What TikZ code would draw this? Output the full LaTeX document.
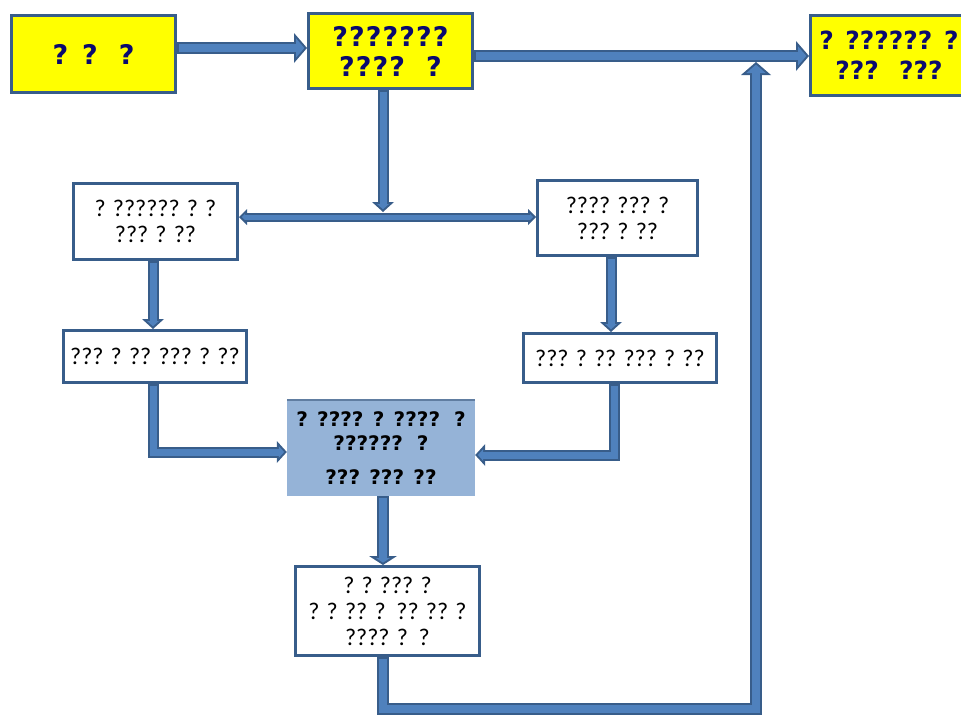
\documentclass[tikz,border=0pt]{standalone}
\usepackage{fontspec}
\usetikzlibrary{arrows.meta}
\newfontfamily\qbold{DejaVu Sans}[LetterSpace=4]
\newfontfamily\qboldc{DejaVu Sans}[LetterSpace=0]
\newfontfamily\qboldh{DejaVu Sans}[LetterSpace=0]
\newfontfamily\qreg{Carlito}
\definecolor{edge}{HTML}{385D8A}
\definecolor{pipefill}{HTML}{4F81BD}
\definecolor{navyt}{HTML}{0A0A6E}
\definecolor{hfill}{HTML}{95B3D7}
\definecolor{yell}{HTML}{FFFF00}
\newcommand\pipeline[3]{\draw[#1] #3; \draw[#2] #3;}
\begin{document}
\begin{tikzpicture}[x=1pt,y=-1pt,
  ybox/.style={draw=edge, line width=3pt, fill=yell, inner sep=0pt, align=center, text=navyt,
    font=\qbold\bfseries\fontsize{27}{30}\selectfont},
  wbox/.style={draw=edge, line width=3pt, fill=white, inner sep=0pt, align=center,
    font=\qreg\fontsize{24}{26}\selectfont},
  hbox/.style={fill=hfill, inner sep=0pt, align=center,
    font=\qboldh\bfseries\fontsize{20}{24}\selectfont},
  opipe/.style n args={3}{draw=edge, line width=#1, line join=miter,
    >={Triangle[length=#2,width=#3,line width=0pt]}},
  ipipe/.style n args={4}{draw=pipefill, line width=#1, line join=miter,
    shorten >=#4, shorten <=2pt, >={Triangle[length=#2,width=#3,line width=0pt]}},
  bigo/.style={opipe={12pt}{13pt}{30pt}},
  bigi/.style={ipipe={8pt}{8.35pt}{19.3pt}{2.65pt}},
  medo/.style={opipe={11pt}{10pt}{22pt}},
  medi/.style={ipipe={7pt}{5.3pt}{11.7pt}{2.7pt}},
  hio/.style={opipe={12pt}{9pt}{28pt}},
  hii/.style={ipipe={8pt}{4.6pt}{14.3pt}{2.4pt}},
  smo/.style={opipe={9pt}{8pt}{16pt}},
  smi/.style={ipipe={5pt}{3.2pt}{6.4pt}{2.8pt}, shorten <=2.8pt},
]
\useasboundingbox (0,0) rectangle (961,715);
\clip (0,0) rectangle (961,715);

% boxes
\node[ybox, minimum width=164pt, minimum height=77pt] (A) at (93.5,54) {? ?~~?};
\node[ybox, minimum width=164pt, minimum height=75pt] (B) at (390.5,51) {???????\\????~~?};
\node[ybox, minimum width=157pt, minimum height=80pt,
      font=\qboldc\bfseries\fontsize{25}{30}\selectfont] (C) at (889,55.5) {? ?????? ?\\??? ~???};
\node[wbox, minimum width=164pt, minimum height=76pt] (D) at (155.5,221.5) {? ?????? ? ?\\??? ? ??};
\node[wbox, minimum width=160pt, minimum height=75pt] (E) at (617.5,218) {???? ??? ?\\??? ? ??};
\node[wbox, minimum width=183pt, minimum height=52pt] (F) at (155,356.5) {??? ? ?? ??? ? ??};
\node[wbox, minimum width=193pt, minimum height=49pt] (G) at (620,358) {??? ? ?? ??? ? ??};
\node[hbox, minimum width=188pt, minimum height=96pt] (H) at (381,448) {? ???? ? ????~~?\\??????~~?\\[10pt]??? ??? ??};
\draw[edge!80, line width=2pt] (H.north west) -- (H.north east);
\node[wbox, minimum width=184pt, minimum height=89pt] (I) at (387.5,611) {? ? ??? ?\\? ? ?? ?~~?? ?? ?\\???? ?~~?};

% helper points
\coordinate (ab) at ([yshift=6pt]A.east);
\coordinate (bc) at ([yshift=-5pt]B.east);
\coordinate (bd) at ([xshift=-7.5pt]B.south);
\coordinate (split) at (383,217);
\coordinate (splittop) at (383,212);
\coordinate (df) at ([xshift=-2.5pt]D.south);
\coordinate (eg) at ([xshift=-6.5pt]E.south);
\coordinate (fh) at ([xshift=-2pt]F.south);
\coordinate (gh) at ([xshift=-6pt]G.south);
\coordinate (hi) at ([xshift=2pt]H.south);
\coordinate (il) at ([xshift=-4.5pt]I.south);
\coordinate (ret) at (756,709);
\coordinate (joinbot) at (756,62);

% connectors
\pipeline{bigo,->}{bigi,->}{(ab) -- (ab -| B.west)}
\pipeline{bigo,->}{bigi,->}{(bc) -- (bc -| C.west)}
\pipeline{medo,->}{medi,->}{(bd) -- (splittop)}
\pipeline{smo,<->}{smi,<->}{(split -| D.east) -- (split -| E.west)}
\pipeline{medo,->}{medi,->}{(df) -- (df |- F.north)}
\pipeline{medo,->}{medi,->}{(eg) -- (eg |- G.north)}
\pipeline{medo,->}{medi,->}{(fh) |- ([yshift=-4pt]H.west)}
\pipeline{medo,->}{medi,->}{(gh) |- ([yshift=-7pt]H.east)}
\pipeline{hio,->}{hii,->}{(hi) -- (hi |- I.north)}
\pipeline{bigo,->}{bigi,->}{(il) |- (ret) -- (joinbot)}
\end{tikzpicture}
\end{document}
